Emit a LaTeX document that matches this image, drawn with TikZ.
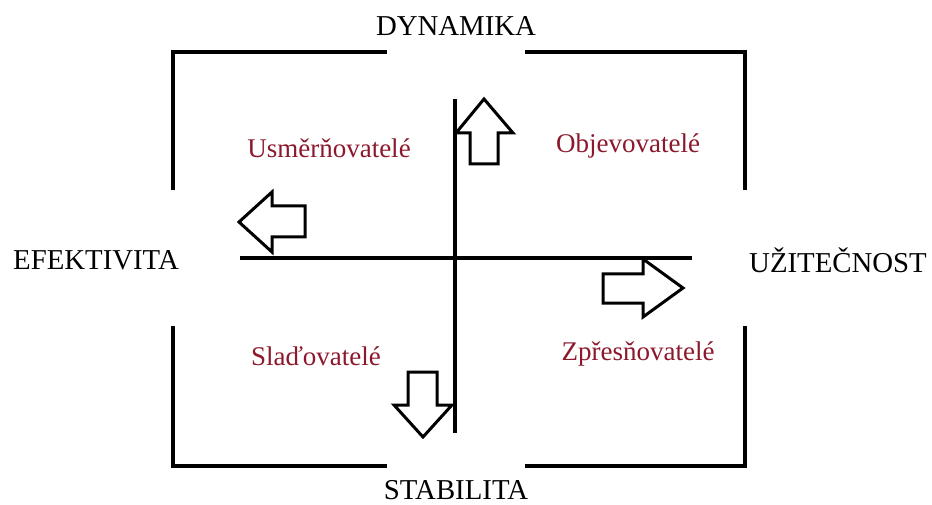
\documentclass[tikz,border=0pt]{standalone}
\usepackage{fontspec}
\setmainfont{Liberation Serif}
\definecolor{qred}{RGB}{140,24,44}
\begin{document}
\begin{tikzpicture}[x=1pt,y=-1pt,
  bracket/.style={line width=4pt,line join=miter,line cap=rect},
  axis/.style={line width=3.5pt},
  bigarrow/.style={line width=3pt,line join=miter,fill=white},
  axlabel/.style={font=\fontsize{28.8}{32}\selectfont,text=black,inner sep=0pt},
  qlabel/.style={font=\fontsize{27}{30}\selectfont,text=qred,inner sep=0pt}]
\useasboundingbox (0,0) rectangle (932,505);
% brackets
\draw[bracket] (385,52) -- (173,52) -- (173,188);
\draw[bracket] (527,52) -- (745,52) -- (745,188);
\draw[bracket] (173,328) -- (173,466) -- (385,466);
\draw[bracket] (745,328) -- (745,466) -- (527,466);
% axes
\draw[axis] (240,258) -- (692,258);
\draw[axis] (455,99) -- (455,433);
% arrows
\draw[bigarrow] (484,99) -- (513,133) -- (498,133) -- (498,164) -- (470,164) -- (470,133) -- (456,133) -- cycle;
\draw[bigarrow] (239,222) -- (272,192) -- (272,206) -- (305,206) -- (305,237) -- (272,237) -- (272,252) -- cycle;
\draw[bigarrow] (683,288) -- (643,259) -- (643,274) -- (603,274) -- (603,303) -- (643,303) -- (643,317) -- cycle;
\draw[bigarrow] (423,437) -- (452,405) -- (437,405) -- (437,372) -- (408,372) -- (408,405) -- (394,405) -- cycle;
% axis labels
\node[axlabel] (dyn) at (456,26) {DYNAMIKA};
\node[axlabel] (stab) at (456,490) {STABILITA};
\node[axlabel] (efe) at (96,260) {EFEKTIVITA};
\node[axlabel] (uzi) at (838,260) {UŽITEČNOST};
% quadrant labels
\node[qlabel] (usm) at (329,148) {Usměrňovatelé};
\node[qlabel] (obj) at (628,146) {Objevovatelé};
\node[qlabel] (sla) at (316,356) {Slaďovatelé};
\node[qlabel] (zpr) at (638,354) {Zpřesňovatelé};
\end{tikzpicture}
\end{document}
